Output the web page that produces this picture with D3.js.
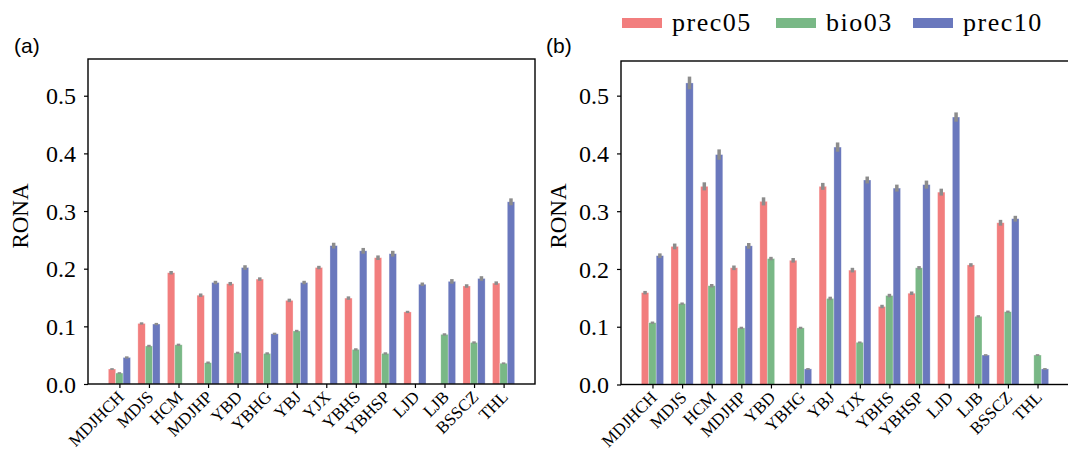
<!DOCTYPE html>
<html>
<head>
<meta charset="utf-8">
<script src="https://cdn.jsdelivr.net/npm/d3@7"></script>
<style>
  body { margin: 0; background: #fff; }
  svg { display: block; }
  .tick text { font-family: "Liberation Serif", "Times New Roman", serif; fill: #000; }
</style>
</head>
<body>
<svg id="chart" width="1068" height="450"></svg>
<script>
// categories (same for both panels)
var sites = ["MDJHCH", "MDJS", "HCM", "MDJHP", "YBD", "YBHG", "YBJ", "YJX", "YBHS", "YBHSP", "LJD", "LJB", "BSSCZ", "THL"];
var seriesNames = ["prec05", "bio03", "prec10"];
var colors = ["#f27e7e", "#79b886", "#6a78bd"];
var yTicks = [0, 0.1, 0.2, 0.3, 0.4, 0.5];

// panel (a)
var prec05A = [0.026, 0.105, 0.193, 0.154, 0.174, 0.182, 0.145, 0.202, 0.149, 0.219, 0.125, 0, 0.170, 0.175];
var bio03A  = [0.019, 0.066, 0.068, 0.037, 0.054, 0.053, 0.092, 0, 0.060, 0.053, 0, 0.086, 0.072, 0.036];
var prec10A = [0.046, 0.104, 0, 0.176, 0.202, 0.087, 0.176, 0.240, 0.231, 0.226, 0.173, 0.178, 0.183, 0.316];
var errPrec05A = [0.001, 0.002, 0.003, 0.003, 0.003, 0.003, 0.003, 0.003, 0.003, 0.004, 0.002, 0, 0.003, 0.003];
var errBio03A  = [0.001, 0.002, 0.002, 0.002, 0.002, 0.002, 0.002, 0, 0.002, 0.002, 0, 0.002, 0.002, 0.001];
var errPrec10A = [0.002, 0.002, 0, 0.003, 0.004, 0.002, 0.003, 0.005, 0.005, 0.005, 0.003, 0.004, 0.004, 0.006];

// panel (b)
var prec05B = [0.159, 0.239, 0.343, 0.202, 0.317, 0.215, 0.343, 0.198, 0.135, 0.158, 0.333, 0.207, 0.280, 0];
var bio03B  = [0.107, 0.140, 0.171, 0.098, 0.218, 0.098, 0.149, 0.073, 0.154, 0.202, 0, 0.118, 0.126, 0.051];
var prec10B = [0.223, 0.522, 0.398, 0.240, 0, 0.027, 0.411, 0.354, 0.340, 0.346, 0.463, 0.051, 0.287, 0.027];
var errPrec05B = [0.003, 0.005, 0.007, 0.004, 0.007, 0.004, 0.006, 0.004, 0.003, 0.003, 0.006, 0.003, 0.005, 0];
var errBio03B  = [0.002, 0.002, 0.003, 0.002, 0.003, 0.002, 0.003, 0.001, 0.003, 0.003, 0, 0.002, 0.002, 0.001];
var errPrec10B = [0.004, 0.011, 0.009, 0.005, 0, 0.001, 0.008, 0.006, 0.006, 0.007, 0.008, 0.001, 0.005, 0.001];

var svg = d3.select("#chart");
var barW = 0.25;

function drawPanel(opt) {
    var g = svg.append("g");

    // x: index based, with matplotlib-like 5% margins
    var x = d3.scaleLinear()
        .domain([-1.0625, sites.length - 1 + 1.0625])
        .range([opt.left, opt.right]);
    var y = d3.scaleLinear()
        .domain([0, opt.yMax])
        .range([opt.bottom, opt.top]);

    opt.series.forEach(function (vals, k) {
        var bars = vals.map(function (v, i) { return { i: i, v: v, e: opt.errors[k][i] }; })
            .filter(function (d) { return d.v > 0; });

        g.selectAll(".bar" + k)
            .data(bars)
            .join("rect")
            .attr("x", d => x(d.i + (k - 1) * barW - barW / 2))
            .attr("width", x(barW) - x(0))
            .attr("y", d => y(d.v))
            .attr("height", d => y(0) - y(d.v))
            .attr("fill", colors[k])
            .attr("stroke", "#fff")
            .attr("stroke-opacity", 0.5)
            .attr("stroke-width", 0.6);

        g.selectAll(".err" + k)
            .data(bars)
            .join("line")
            .attr("x1", d => x(d.i + (k - 1) * barW))
            .attr("x2", d => x(d.i + (k - 1) * barW))
            .attr("y1", d => y(d.v - Math.max(d.e, 0.0015)))
            .attr("y2", d => y(d.v + Math.max(d.e, 0.0015)))
            .attr("stroke", "#8c8c8c")
            .attr("stroke-width", 3.5);
    });

    // box
    g.append("rect")
        .attr("x", opt.left)
        .attr("y", opt.top)
        .attr("width", opt.right - opt.left)
        .attr("height", opt.bottom - opt.top)
        .attr("fill", "none")
        .attr("stroke", "#000")
        .attr("stroke-width", 1.4);

    // y axis
    var yAxis = g.append("g")
        .attr("transform", "translate(" + opt.left + ",0)")
        .call(d3.axisLeft(y).tickValues(yTicks).tickFormat(d3.format(".1f")).tickSize(4).tickPadding(8));
    yAxis.select(".domain").remove();
    yAxis.selectAll("line").attr("stroke-width", 1.2);
    yAxis.selectAll("text").style("font-size", "24px").attr("dy", "0.34em");

    // x axis
    var xAxis = g.append("g")
        .attr("transform", "translate(0," + opt.bottom + ")")
        .call(d3.axisBottom(x).tickValues(d3.range(sites.length)).tickFormat(i => sites[i]).tickSize(4));
    xAxis.select(".domain").remove();
    xAxis.selectAll("line").attr("stroke-width", 1.2);
    xAxis.selectAll("text")
        .style("font-size", "17px")
        .attr("text-anchor", "end")
        .attr("x", 0)
        .attr("y", 0)
        .attr("dy", 0)
        .attr("transform", "translate(5,14) rotate(-45)");

    // y label
    g.append("text")
        .attr("transform", "translate(" + opt.labelX + "," + 216 + ") rotate(-90)")
        .attr("text-anchor", "middle")
        .style("font-family", "'Liberation Serif', 'Times New Roman', serif")
        .style("font-size", "23px")
        .text("RONA");

    // panel tag
    g.append("text")
        .attr("x", opt.tagX)
        .attr("y", opt.tagY)
        .style("font-family", "'Liberation Sans', Arial, sans-serif")
        .style("font-size", "21px")
        .text(opt.tag);
}

drawPanel({
    left: 88, right: 535, top: 59, bottom: 384, yMax: 0.5637,
    series: [prec05A, bio03A, prec10A],
    errors: [errPrec05A, errBio03A, errPrec10A],
    labelX: 28, tag: "(a)", tagX: 14, tagY: 53
});

drawPanel({
    left: 621, right: 1069, top: 61, bottom: 384.5, yMax: 0.560,
    series: [prec05B, bio03B, prec10B],
    errors: [errPrec05B, errBio03B, errPrec10B],
    labelX: 566, tag: "(b)", tagX: 546, tagY: 53
});

// legend
var legendX = [622, 776, 913];
var legend = svg.append("g");
seriesNames.forEach(function (name, k) {
    legend.append("rect")
        .attr("x", legendX[k])
        .attr("y", 18)
        .attr("width", 40)
        .attr("height", 10)
        .attr("fill", colors[k]);
    legend.append("text")
        .attr("x", legendX[k] + 50)
        .attr("y", 31)
        .style("font-family", "'Liberation Serif', 'Times New Roman', serif")
        .style("font-size", "26px")
        .style("letter-spacing", "1.5px")
        .text(name);
});
</script>
</body>
</html>
